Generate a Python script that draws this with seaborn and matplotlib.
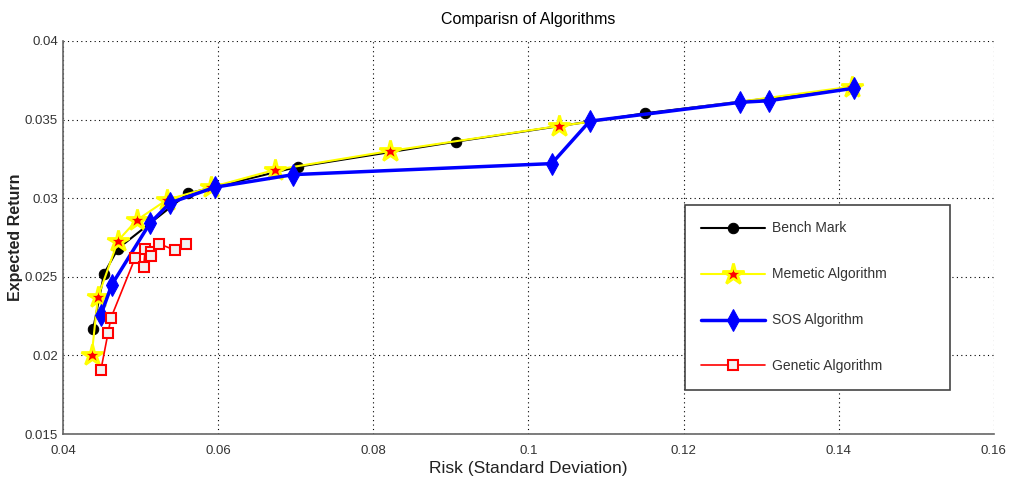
import matplotlib
matplotlib.use("Agg")
import matplotlib.pyplot as plt
import seaborn as sns
from matplotlib.ticker import FormatStrFormatter, MultipleLocator

# risk / return pairs
bench_x = [0.0439, 0.0453, 0.0471, 0.0561, 0.0703, 0.0907, 0.1150, 0.1418]
bench_y = [0.0217, 0.0252, 0.0268, 0.0303, 0.0320, 0.0336, 0.0354, 0.0370]

meme_x = [0.0437, 0.0445, 0.0471, 0.0495, 0.0534, 0.0591, 0.0673, 0.0821, 0.1040, 0.1417]
meme_y = [0.0200, 0.0237, 0.0273, 0.0286, 0.0299, 0.0307, 0.0318, 0.0330, 0.0346, 0.0371]

sos_x = [0.0449, 0.0463, 0.0512, 0.0538, 0.0596, 0.0697, 0.1030, 0.1079, 0.1273, 0.1310, 0.1420]
sos_y = [0.0226, 0.0245, 0.0284, 0.0297, 0.0307, 0.0315, 0.0322, 0.0349, 0.0361, 0.0362, 0.0370]

gen_x = [0.0449, 0.0458, 0.0462, 0.0493, 0.0504, 0.0506, 0.0513, 0.0514, 0.0524, 0.0544, 0.0558]
gen_y = [0.0191, 0.0214, 0.0224, 0.0262, 0.0256, 0.0268, 0.0266, 0.0263, 0.0271, 0.0267, 0.0271]

sns.set_theme(style="white")
plt.rcParams["font.family"] = ["Liberation Sans", "DejaVu Sans"]

fig = plt.figure(figsize=(10.09, 4.84), dpi=100)
ax = fig.add_axes([0.0624, 0.1033, 0.9226, 0.812])

sns.lineplot(x=bench_x, y=bench_y, sort=False, ax=ax, color="black", lw=1.5,
             marker="o", markersize=7.5, markeredgecolor="black", label="Bench Mark")
sns.lineplot(x=meme_x, y=meme_y, sort=False, ax=ax, color="yellow", lw=1.5,
             marker="*", markersize=16, markerfacecolor="red", markeredgecolor="yellow",
             markeredgewidth=2, label="Memetic Algorithm")
sns.lineplot(x=sos_x, y=sos_y, sort=False, ax=ax, color="blue", lw=2.5,
             marker="d", markersize=11, markerfacecolor="blue", markeredgecolor="blue",
             label="SOS Algorithm")
sns.lineplot(x=gen_x, y=gen_y, sort=False, ax=ax, color="red", lw=1.2,
             marker="s", markersize=7.5, markerfacecolor="#f2f2f2", markeredgecolor="red",
             markeredgewidth=1.5, label="Genetic Algorithm")

ax.set_xlim(0.04, 0.16)
ax.set_ylim(0.015, 0.04)
ax.xaxis.set_major_locator(MultipleLocator(0.02))
ax.yaxis.set_major_locator(MultipleLocator(0.005))
ax.xaxis.set_major_formatter(FormatStrFormatter("%g"))
ax.yaxis.set_major_formatter(FormatStrFormatter("%g"))
ax.tick_params(direction="in", length=5, labelsize=9.5, colors="#555555", labelcolor="#333333")
ax.tick_params(axis="x", pad=8)
ax.grid(True, linestyle=(0, (1, 3)), color="black", linewidth=0.8)
for side in ["top", "right"]:
    ax.spines[side].set_visible(False)
for side in ["left", "bottom"]:
    ax.spines[side].set_color("#666666")
    ax.spines[side].set_linewidth(1.2)

ax.set_title("Comparisn of Algorithms", fontsize=11.5, color="black", pad=12)
ax.set_xlabel("Risk (Standard Deviation)", fontsize=12.5, color="#222222", labelpad=3)
ax.set_ylabel("Expected Return", fontsize=11.5, fontweight="bold", color="#222222", labelpad=1)

leg = ax.legend(loc="lower left", bbox_to_anchor=(0.668, 0.112, 0.285, 0.491), mode="expand",
                borderaxespad=0, fancybox=False, framealpha=1, edgecolor="#444444",
                fontsize=10, handlelength=4.6, labelspacing=2.3, borderpad=1.2,
                handletextpad=0.5)
leg.get_frame().set_linewidth(1.2)
for t in leg.get_texts():
    t.set_color("#333333")

fig.savefig("out.png", dpi=100)
